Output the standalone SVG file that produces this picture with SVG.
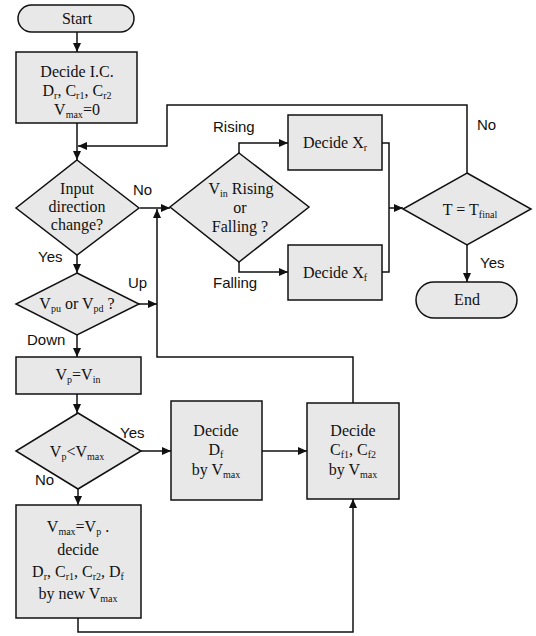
<svg xmlns="http://www.w3.org/2000/svg" width="536" height="636" viewBox="0 0 536 636">
<style>
.n{fill:#e8e8e8;stroke:#111;stroke-width:1.5}
.t{font-family:"Liberation Serif","Times New Roman",serif;font-size:16px;fill:#111;text-anchor:middle}
.s{font-size:10px}
.l{font-family:"Liberation Sans",Arial,sans-serif;font-size:15px;fill:#111}
.c{fill:none;stroke:#111;stroke-width:1.5}
.a{marker-end:url(#ah)}
</style>
<defs>
<marker id="ah" markerUnits="userSpaceOnUse" markerWidth="9" markerHeight="8" refX="9" refY="4" orient="auto">
<path d="M0,0 L9,4 L0,8 z" fill="#111"/>
</marker>
</defs>
<rect width="536" height="636" fill="#fff"/>
<g id="connectors">
<path class="c a" d="M77,32 V52"/>
<path class="c a" d="M77,123 V160"/>
<path class="c a" d="M467,173 V105 H167 V146 H78"/>
<path class="c a" d="M140,208 H170"/>
<path class="c a" d="M239,153 V143 H288"/>
<path class="c a" d="M239,262 V272 H288"/>
<path class="c" d="M382,143 H389 V272 H382"/>
<path class="c a" d="M389,208 H403"/>
<path class="c a" d="M467,245 V282"/>
<path class="c a" d="M77,255 V273"/>
<path class="c a" d="M139,304 H157"/>
<path class="c a" d="M353,403 V357 H157 V209"/>
<path class="c a" d="M77,335 V357"/>
<path class="c a" d="M77,394 V413"/>
<path class="c a" d="M141,451 H171"/>
<path class="c a" d="M262,451 H307"/>
<path class="c a" d="M78,489 V505"/>
<path class="c a" d="M78,618 V632 H353 V499"/>
<text class="l" x="133" y="195">No</text>
<text class="l" x="38" y="262">Yes</text>
<text class="l" x="128" y="288">Up</text>
<text class="l" x="27" y="345">Down</text>
<text class="l" x="120" y="438">Yes</text>
<text class="l" x="35" y="485">No</text>
<text class="l" x="213" y="132">Rising</text>
<text class="l" x="213" y="288">Falling</text>
<text class="l" x="477" y="130">No</text>
<text class="l" x="480" y="268">Yes</text>
</g>
<g id="start">
<rect class="n" x="18" y="5" width="116" height="27" rx="13.5"/>
<text class="t" x="77" y="24">Start</text>
</g>
<g id="init">
<rect class="n" x="16" y="52" width="121" height="71"/>
<text class="t" x="77" y="77">Decide I.C.</text>
<text class="t" x="77" y="96">D<tspan class="s" dy="3">r</tspan><tspan dy="-3">, C</tspan><tspan class="s" dy="3">r1</tspan><tspan dy="-3">, C</tspan><tspan class="s" dy="3">r2</tspan></text>
<text class="t" x="77" y="115">V<tspan class="s" dy="3">max</tspan><tspan dy="-3">=0</tspan></text>
</g>
<g id="input-dir">
<polygon class="n" points="77,160 139,208 77,255 16,208"/>
<text class="t" x="77" y="194">Input</text>
<text class="t" x="77" y="212">direction</text>
<text class="t" x="77" y="230">change?</text>
</g>
<g id="vin-dir">
<polygon class="n" points="239,153 309,207 239,262 170,207"/>
<text class="t" x="241" y="194">V<tspan class="s" dy="3">in</tspan><tspan dy="-3"> Rising</tspan></text>
<text class="t" x="240" y="213">or</text>
<text class="t" x="240" y="232">Falling ?</text>
</g>
<g id="xr">
<rect class="n" x="288" y="115" width="94" height="55"/>
<text class="t" x="335" y="148">Decide X<tspan class="s" dy="3">r</tspan></text>
</g>
<g id="xf">
<rect class="n" x="288" y="245" width="94" height="55"/>
<text class="t" x="335" y="278">Decide X<tspan class="s" dy="3">f</tspan></text>
</g>
<g id="tfinal">
<polygon class="n" points="467,173 531,209 467,245 403,209"/>
<text class="t" x="470" y="215">T = T<tspan class="s" dy="3">final</tspan></text>
</g>
<g id="end">
<rect class="n" x="416" y="282" width="101" height="36" rx="18"/>
<text class="t" x="467" y="305">End</text>
</g>
<g id="vpu-vpd">
<polygon class="n" points="77,273 139,304 77,335 16,304"/>
<text class="t" x="77" y="309">V<tspan class="s" dy="3">pu</tspan><tspan dy="-3"> or V</tspan><tspan class="s" dy="3">pd</tspan><tspan dy="-3"> ?</tspan></text>
</g>
<g id="vp">
<rect class="n" x="16" y="357" width="125" height="37"/>
<text class="t" x="78" y="380">V<tspan class="s" dy="3">p</tspan><tspan dy="-3">=V</tspan><tspan class="s" dy="3">in</tspan></text>
</g>
<g id="vp-lt-vmax">
<polygon class="n" points="78,413 141,451 78,489 16,451"/>
<text class="t" x="77" y="457">V<tspan class="s" dy="3">p</tspan><tspan dy="-3">&lt;V</tspan><tspan class="s" dy="3">max</tspan></text>
</g>
<g id="df">
<rect class="n" x="171" y="401" width="91" height="99"/>
<text class="t" x="216" y="436">Decide</text>
<text class="t" x="216" y="455">D<tspan class="s" dy="3">f</tspan></text>
<text class="t" x="216" y="475">by V<tspan class="s" dy="3">max</tspan></text>
</g>
<g id="cf">
<rect class="n" x="307" y="403" width="92" height="96"/>
<text class="t" x="353" y="436">Decide</text>
<text class="t" x="353" y="455">C<tspan class="s" dy="3">f1</tspan><tspan dy="-3">, C</tspan><tspan class="s" dy="3">f2</tspan></text>
<text class="t" x="353" y="475">by V<tspan class="s" dy="3">max</tspan></text>
</g>
<g id="new-vmax">
<rect class="n" x="16" y="505" width="125" height="113"/>
<text class="t" x="78" y="532">V<tspan class="s" dy="3">max</tspan><tspan dy="-3">=V</tspan><tspan class="s" dy="3">p</tspan><tspan dy="-3"> .</tspan></text>
<text class="t" x="78" y="555">decide</text>
<text class="t" x="78" y="577">D<tspan class="s" dy="3">r</tspan><tspan dy="-3">, C</tspan><tspan class="s" dy="3">r1</tspan><tspan dy="-3">, C</tspan><tspan class="s" dy="3">r2</tspan><tspan dy="-3">, D</tspan><tspan class="s" dy="3">f</tspan></text>
<text class="t" x="78" y="599">by new V<tspan class="s" dy="3">max</tspan></text>
</g>
</svg>
